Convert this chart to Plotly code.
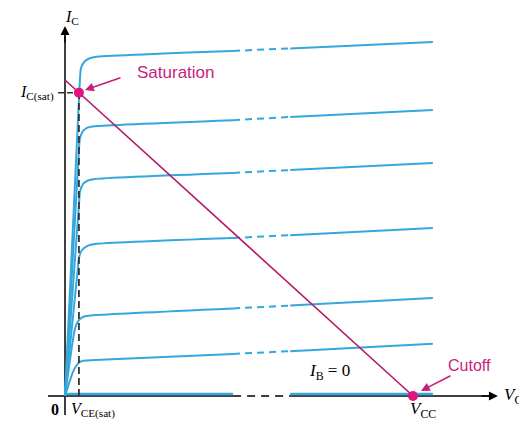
import plotly.graph_objects as go

# transistor output characteristics, V_CE in volts, I_C in mA
vcc = 10.0
ic_sat_max = 10.0          # load line intercept Vcc/Rc
vce_sat = 0.40
ic_sat = 9.6

# flat (active) region of each I_B curve: solid / dashed gap / solid
v_flat = [0.86, 4.83, 6.47, 10.57]
ic_flat = [
    [10.73, 10.92, 11.00, 11.20],
    [8.54, 8.73, 8.83, 9.05],
    [6.87, 7.06, 7.15, 7.37],
    [4.81, 5.00, 5.09, 5.32],
    [2.56, 2.77, 2.86, 3.10],
    [1.14, 1.33, 1.42, 1.65],
]

# rise from the origin and the knee of each curve
knee_v = [
    [0, 0.42, 0.46, 0.55, 0.69],
    [0, 0.40, 0.43, 0.52, 0.66],
    [0, 0.40, 0.43, 0.52, 0.66],
    [0, 0.37, 0.40, 0.49, 0.66],
    [0, 0.26, 0.32, 0.43, 0.60],
    [0, 0.23, 0.32, 0.43, 0.60],
]
knee_i = [
    [0, 9.84, 10.38, 10.57, 10.68],
    [0, 7.78, 8.16, 8.39, 8.50],
    [0, 6.04, 6.46, 6.71, 6.82],
    [0, 4.05, 4.37, 4.62, 4.76],
    [0, 1.99, 2.25, 2.44, 2.53],
    [0, 0.76, 0.95, 1.08, 1.12],
]

# I_B = 0 line sits on the axis
ib0_level = 0.06

blue = '#35a7dc'
magenta_line = '#b3186b'
magenta_dot = '#e2157f'
magenta_text = '#c81e7c'
serif = 'Liberation Serif'
sans = 'Liberation Sans'

fig = go.Figure()

def add_line(x, y, color, width, dash='solid', shape='linear'):
    fig.add_trace(go.Scatter(x=x, y=y, mode='lines', hoverinfo='skip',
                             line=dict(color=color, width=width, dash=dash, shape=shape,
                                       smoothing=0.6)))

# axes drawn by hand (with the broken section)
add_line([-0.49, v_flat[1]], [0, 0], 'black', 1.5)
add_line([v_flat[1], v_flat[2]], [0, 0], 'black', 1.5, dash='8px,6px')
add_line([v_flat[2], 12.2], [0, 0], 'black', 1.5)
add_line([0, 0], [-0.6, 11.4], 'black', 1.5)

# I_B = 0 curve
add_line([0, v_flat[1]], [ib0_level, ib0_level], blue, 2.5)
add_line([v_flat[2], v_flat[3]], [ib0_level, ib0_level], blue, 2.5)

# I_B curves
for kv, ki, fl in zip(knee_v, knee_i, ic_flat):
    add_line(kv + v_flat[:2], ki + fl[:2], blue, 2, shape='spline')
    add_line(v_flat[1:3], fl[1:3], blue, 2, dash='7px,5px')
    add_line(v_flat[2:], fl[2:], blue, 2)

# V_CE(sat) and I_C(sat) dashed guides
add_line([vce_sat, vce_sat], [0, ic_sat], '#333333', 1.8, dash='7px,4px')
add_line([-0.2, vce_sat], [ic_sat, ic_sat], '#333333', 1.5, dash='6px,3px')

# load line
add_line([0, vcc], [ic_sat_max, 0], magenta_line, 1.6)

# saturation and cutoff points
fig.add_trace(go.Scatter(x=[vce_sat, vcc], y=[ic_sat, 0], mode='markers', hoverinfo='skip',
                         marker=dict(color=magenta_dot, size=10)))

# axis arrowheads
fig.add_annotation(x=0, y=11.71, ax=0, ay=18, text='', showarrow=True,
                   arrowhead=2, arrowsize=1.2, arrowwidth=1.5, arrowcolor='black')
fig.add_annotation(x=12.44, y=0, ax=-18, ay=0, text='', showarrow=True,
                   arrowhead=2, arrowsize=1.2, arrowwidth=1.5, arrowcolor='black')

# pointer arrows
fig.add_annotation(x=0.575, y=9.68, ax=37, ay=-13, text='', showarrow=True,
                   arrowhead=2, arrowsize=1.1, arrowwidth=1.6, arrowcolor=magenta_text)
fig.add_annotation(x=10.23, y=0.16, ax=31, ay=-16, text='', showarrow=True,
                   arrowhead=2, arrowsize=1.1, arrowwidth=1.6, arrowcolor=magenta_text)

# labels
def label(x, y, text, size=14, color='black', family=serif, xanchor='center'):
    fig.add_annotation(x=x, y=y, text=text, showarrow=False, xanchor=xanchor,
                       font=dict(family=family, size=size, color=color))

label(0.2, 11.98, '<i>I</i><sub>C</sub>', size=16)
label(-0.27, 9.6, '<i>I</i><sub>C(sat)</sub>', size=16, xanchor='right')
label(3.2, 10.25, 'Saturation', size=17, color=magenta_text, family=sans)
label(11.62, 0.95, 'Cutoff', size=16, color=magenta_text, family=sans)
label(7.6, 0.75, '<i>I</i><sub>B</sub> = 0', size=17)
label(-0.3, -0.42, '<b>0</b>', size=16)
label(0.12, -0.45, '<i>V</i><sub>CE(sat)</sub>', size=16, xanchor='left')
label(10.3, -0.45, '<i>V</i><sub>CC</sub>', size=17)
label(12.55, 0.0, '<i>V</i><sub>CE</sub>', size=17, xanchor='left')

# page body has an 8px margin, so the figure is shifted by it
fig.update_layout(
    width=519, height=417,
    margin=dict(l=0, r=0, t=0, b=0),
    paper_bgcolor='white', plot_bgcolor='white',
    showlegend=False,
    xaxis=dict(range=[-57 / 34.8, 462 / 34.8], visible=False, fixedrange=True),
    yaxis=dict(range=[-29 / 31.6, 388 / 31.6], visible=False, fixedrange=True),
)

fig.write_html("out.html")
